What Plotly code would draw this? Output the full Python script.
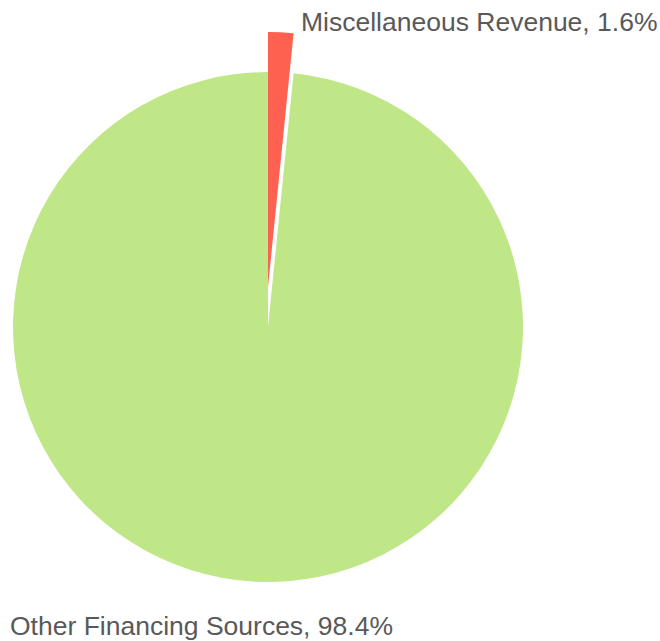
import plotly.graph_objects as go

# Revenue shares (percent)
categories = ["Miscellaneous Revenue", "Other Financing Sources"]
shares = [1.6, 98.4]
colors = ["#fe6150", "#c0e787"]

W, H = 660, 641
CX, CY, R = 268, 327, 255      # pie centre and radius, px
PULL_PX = 40                    # upward offset of the small slice, px
TRANSPARENT = "rgba(0,0,0,0)"


def domain(cx, cy, r):
    return dict(
        x=[(cx - r) / W, (cx + r) / W],
        y=[1 - (cy + r) / H, 1 - (cy - r) / H],
    )


fig = go.Figure()

# Large slice, drawn in place
fig.add_trace(go.Pie(
    labels=categories, values=shares, sort=False, direction="clockwise",
    rotation=0, textinfo="none", hoverinfo="skip", showlegend=False,
    marker=dict(colors=[TRANSPARENT, colors[1]], line=dict(width=0)),
    domain=domain(CX, CY, R),
))

# Small slice, pulled out from the centre
fig.add_trace(go.Pie(
    labels=categories, values=shares, sort=False, direction="clockwise",
    rotation=0, textinfo="none", hoverinfo="skip", showlegend=False,
    marker=dict(colors=[colors[0], TRANSPARENT], line=dict(width=0)),
    domain=domain(CX, CY - PULL_PX, R),
))

label_pos = [(299, 22), (8, 625.5)]
annotations = []
for name, val, (lx, ly) in zip(categories, shares, label_pos):
    annotations.append(dict(
        text=f"{name}, {val}%", xref="paper", yref="paper",
        x=lx / W, y=1 - ly / H, xanchor="left", yanchor="middle",
        showarrow=False,
        font=dict(family="Liberation Sans, Arial, sans-serif", size=26.5, color="#595959"),
    ))

fig.update_layout(
    width=W, height=H, margin=dict(l=0, r=0, t=0, b=0),
    paper_bgcolor="white", plot_bgcolor="white",
    annotations=annotations,
)

fig.write_html("out.html")
